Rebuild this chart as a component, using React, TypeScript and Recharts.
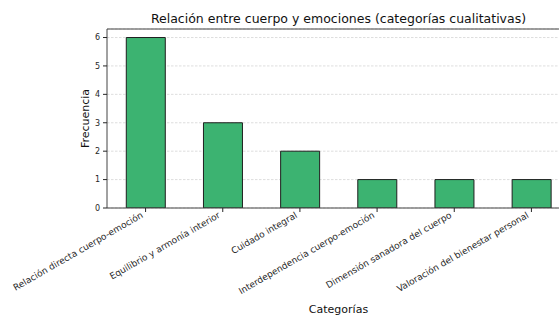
import React from "react";
import { Bar, BarChart, CartesianGrid, ReferenceLine, XAxis, YAxis } from "recharts";

const categories = [
  "Relación directa cuerpo-emoción",
  "Equilibrio y armonía interior",
  "Cuidado integral",
  "Interdependencia cuerpo-emoción",
  "Dimensión sanadora del cuerpo",
  "Valoración del bienestar personal",
];
const frequencies = [6, 3, 2, 1, 1, 1];
const yTicks = [0, 1, 2, 3, 4, 5, 6];

const data = categories.map((name, i) => ({ name, value: frequencies[i] }));

const FONT = "'DejaVu Sans', sans-serif";
const INK = "#262626";

function CategoryTick(props: any) {
  const { x, y, payload } = props;
  return (
    <g transform={`translate(${x},${y})`}>
      <text
        x={0}
        y={0}
        dx={-3.2}
        dy={1.6}
        textAnchor="end"
        transform="rotate(-30)"
        fontFamily={FONT}
        fontSize={9}
        fill={INK}
      >
        {payload.value}
      </text>
    </g>
  );
}

export default function App() {
  return (
    <div
      style={{
        position: "fixed",
        top: 0,
        left: 0,
        width: 559,
        height: 316,
        overflow: "hidden",
        background: "#fff",
      }}
    >
      <div
        style={{
          position: "absolute",
          top: 11,
          left: 0,
          width: 677,
          textAlign: "center",
          fontFamily: FONT,
          fontSize: 12.5,
          color: "#111",
        }}
      >
        Relación entre cuerpo y emociones (categorías cualitativas)
      </div>
      <BarChart
        width={575}
        height={316}
        data={data}
        margin={{ top: 29, right: 5, bottom: 0, left: 0 }}
        barCategoryGap="25%"
      >
        <CartesianGrid
          vertical={false}
          horizontal
          stroke="#d0d0d0"
          strokeDasharray="2.5 1.5"
          strokeWidth={0.7}
        />
        <ReferenceLine y={6.3} stroke="#444" strokeWidth={1} />
        <XAxis
          dataKey="name"
          interval={0}
          height={108}
          tick={<CategoryTick />}
          tickLine={{ stroke: INK }}
          tickSize={4}
          axisLine={{ stroke: "#444" }}
          label={{
            value: "Categorías",
            position: "insideBottom",
            offset: 3,
            fontFamily: FONT,
            fontSize: 11,
            fill: "#111",
          }}
        />
        <YAxis
          width={107}
          domain={[0, 6.3]}
          ticks={yTicks}
          allowDataOverflow
          tickSize={4}
          tickMargin={3}
          tickLine={{ stroke: INK }}
          axisLine={{ stroke: "#444" }}
          tick={{ fontFamily: FONT, fontSize: 8, fill: INK }}
          label={{
            value: "Frecuencia",
            angle: -90,
            position: "insideRight",
            offset: 22,
            fontFamily: FONT,
            fontSize: 11,
            fill: "#111",
            style: { textAnchor: "middle" },
          }}
        />
        <Bar
          dataKey="value"
          fill="#3CB371"
          stroke="#1f1f1f"
          strokeWidth={1}
          isAnimationActive={false}
        />
      </BarChart>
    </div>
  );
}
